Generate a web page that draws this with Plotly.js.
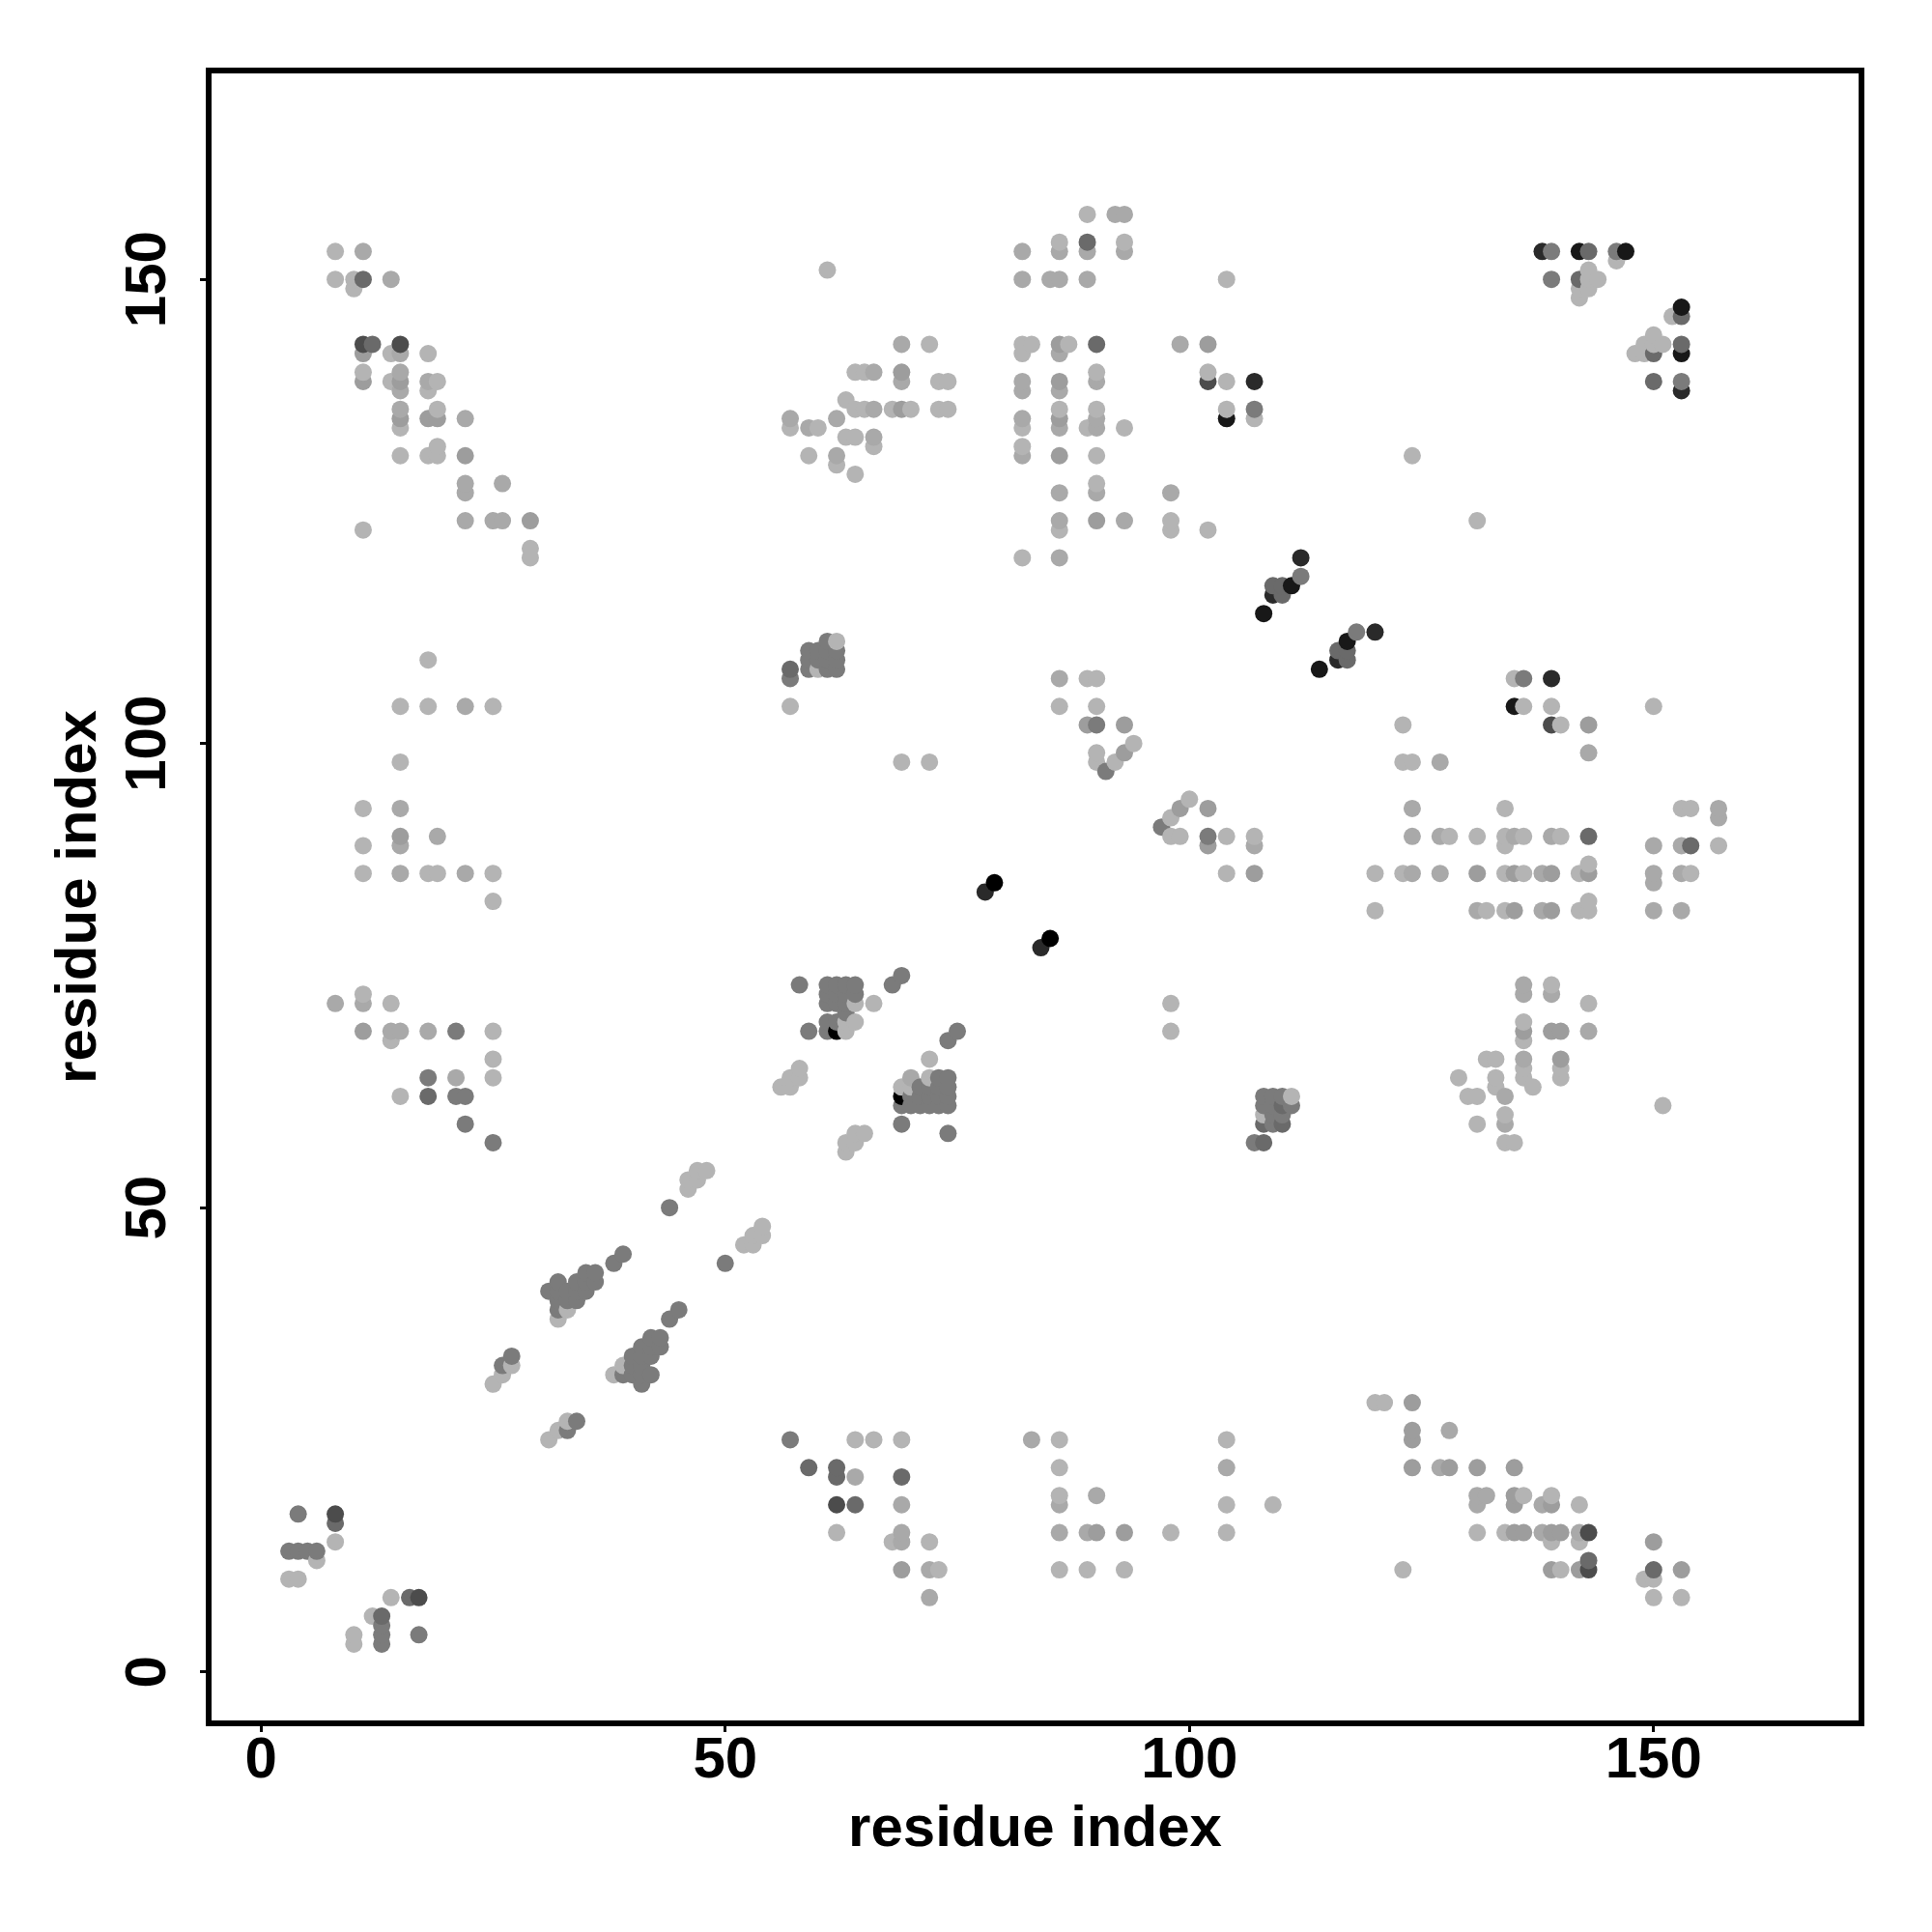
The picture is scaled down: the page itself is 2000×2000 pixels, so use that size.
<!DOCTYPE html>
<html><head><meta charset="utf-8">
<script src="https://cdn.plot.ly/plotly-3.0.1.min.js"></script>
<style>html,body{margin:0;padding:0;background:#fff}</style></head>
<body><div id="chart" style="width:2000px;height:2000px"></div>
<script>
const tickValues=[0,50,100,150];
const axisTitle="residue index";
const contactsLight=[[8,153],[8,150],[10,150],[10,149],[14,142],[18,142],[11,140],[14,139],[19,139],[18,138],[19,136],[15,134],[15,131],[18,131],[19,131],[19,132],[11,123],[29,121],[29,120],[18,109],[15,104],[18,104],[25,104],
[61,151],[86,154],[89,157],[93,154],[104,150],[82,143],[83,143],[87,143],[72,143],[82,142],[64,140],[65,140],[90,140],[102,140],[73,139],[74,139],[104,139],[63,137],[65,136],[64,136],[68,136],[70,136],[73,136],[74,136],[86,136],[90,136],[104,136],[107,135],[57,134],[60,134],[82,134],[89,134],[93,134],[63,133],[64,133],[66,132],[82,132],[59,131],[90,131],[62,130],[64,129],[90,128],[98,124],[86,123],[98,123],[102,123],[82,120],
[146,152],[143,151],[144,150],[143,150],[143,149],[142,149],[142,148],[152,146],[150,144],[149,143],[150,143],[151,143],[148,142],[149,142],[124,131],[131,124],
[135,107],[136,104],[139,104],[150,104],[123,102],[140,102],[123,98],[124,98],[134,93],[153,93],[154,93],[107,90],[128,90],[131,90],[134,90],[136,90],[140,90],[134,89],[157,89],[143,87],[120,86],[123,86],[134,86],[136,86],[142,86],[154,86],[143,83],[120,82],[132,82],[134,82],[142,82],[143,82],[139,74],[143,72],[136,70],[136,68],[132,66],[133,66],[136,65],[140,65],[129,64],[133,64],[136,64],[140,64],[133,63],[137,63],[130,62],[131,62],[151,61],[134,60],[131,59],[134,57],[135,57],[111,62],[108,60],
[62,111],[60,108],[57,104],[89,107],[90,107],[86,104],[90,104],[90,99],[90,98],[92,98],[94,100],[69,98],[72,98],[100,94],[98,92],[98,90],[99,90],[104,90],[104,86],[98,72],[98,69],[64,72],[66,72],[64,70],[63,70],[63,69],[72,66],[72,64],[69,63],[70,63],[58,65],[57,64],[58,64],[56,63],[57,63],[65,58],[64,58],[63,57],[64,57],[63,56],
[15,98],[11,93],[11,89],[11,86],[18,86],[19,86],[25,86],[25,83],[11,73],[14,72],[25,69],[14,68],[25,66],[25,64],[15,62],
[48,54],[47,54],[47,53],[46,53],[46,52],[54,48],[54,47],[53,47],[53,46],[52,46],[33,39],[32,38],[39,33],[38,32],[27,33],[26,32],[25,31],[33,27],[32,26],[31,25],
[64,25],[66,25],[69,25],[86,25],[104,25],[86,22],[86,19],[104,18],[62,15],[98,15],[104,15],[68,14],[72,14],[73,11],[86,11],[89,11],[93,11],[109,18],
[120,29],[121,29],[136,19],[139,19],[142,18],[131,15],[134,15],[139,14],[142,14],[123,11],[140,11],[149,10],[150,10],[150,8],[153,8],
[8,14],[6,12],[3,10],[4,10],[14,8],[12,6],[10,4],[10,3]];
const contactsPale=[[11,153],[14,150],[15,142],[15,140],[15,138],[18,139],[15,136],[22,135],[22,128],[22,127],[26,128],[22,124],[25,124],[26,124],[22,104],
[82,153],[86,153],[89,153],[92,157],[93,157],[93,153],[82,150],[85,150],[86,150],[89,150],[69,143],[99,143],[86,142],[66,140],[69,139],[90,139],[82,139],[82,138],[86,138],[66,136],[57,135],[62,135],[82,135],[90,135],[59,134],[86,134],[90,134],[66,133],[62,131],[82,131],[86,127],[90,127],[98,127],[86,124],[93,124],[86,120],
[127,98],[143,99],[124,93],[157,93],[157,92],[124,90],[127,90],[135,90],[139,90],[107,89],[150,89],[153,89],[124,86],[127,86],[138,86],[150,86],[150,85],[153,86],[131,82],[138,82],[150,82],[153,82],[136,74],[136,73],[139,73],[143,69],[136,66],[134,62],[134,59],
[86,107],[70,64],[15,93],[15,89],[19,90],[15,86],[22,86],[8,72],[11,72],[18,69],[14,69],[15,69],[21,64],
[83,25],[104,22],[64,21],[90,19],[69,18],[86,18],[69,15],[86,15],[89,15],[69,14],[72,11],[72,8],
[131,19],[132,19],[131,18],[138,18],[128,26],[127,22],[138,15],[142,15]];
const contactsMedium=[[11,142],[11,139],[15,139],[15,135],[18,135],[19,135],[22,131],[29,124],[86,143],[102,143],[69,140],[86,139],[69,136],[86,135],[86,131],[90,124],[143,102],[107,86],[131,86],[135,86],[139,86],[143,86],[135,82],[139,82],[136,69],[139,69],[140,69],[140,66],[89,102],[93,102],[93,99],[99,93],[102,93],[102,89],[11,69],[15,90],[124,29],[124,26],[124,25],[124,22],[128,22],[131,22],[135,22],[135,19],[135,18],[139,18],[135,15],[136,15],[139,15],[140,15],[150,14],[139,11],[142,11],[153,11],[90,15],[93,15],[69,11]];
const contactsGrey=[[107,136],[139,153],[146,153],[139,150],[153,139],[112,118],[118,112],[136,107],[90,102],[91,97],[97,91],[102,90],[61,111],[57,107],
[59,110],[60,110],[61,110],[62,110],[59,109],[60,109],[61,109],[62,109],[59,108],[61,108],[62,108],
[108,62],[109,62],[110,62],[108,61],[109,61],[111,61],[109,60],[110,60],[109,59],
[58,74],[61,74],[62,74],[63,74],[64,74],[61,73],[62,73],[63,73],[64,73],[61,72],[62,72],[63,72],[63,71],[61,70],[62,70],[59,69],[61,69],[68,74],[69,75],[74,68],[75,69],
[71,63],[72,63],[73,64],[74,64],[73,63],[74,63],[71,62],[72,62],[73,62],[74,62],[71,61],[72,61],[73,61],[74,61],[70,62],[69,61],[70,61],[69,59],[74,58],
[21,69],[18,64],[21,62],[22,62],[22,59],[25,57],[44,50],[50,44],[39,45],[38,44],
[31,41],[32,42],[32,41],[32,40],[33,41],[33,40],[34,42],[34,41],[34,40],[35,43],[35,42],[35,41],[36,43],[36,42],
[45,39],[44,38],[43,36],[42,36],[43,35],[41,35],[42,35],[42,34],[40,34],[41,34],[40,33],[41,33],[40,32],[41,32],[42,32],[39,32],[41,31],
[32,39],[27,34],[26,33],[34,27],[33,26],[57,25],[4,17],[3,13],[4,13],[5,13],[6,13],[13,5],[13,4],[13,3],[17,4],[107,57]];
const contactsDim=[[11,150],[12,143],[90,143],[89,154],[143,153],[142,150],[153,146],[150,142],[153,143],[150,139],[109,117],[110,117],[110,116],[117,109],[116,110],[117,110],[143,90],[154,89],[57,108],[18,62],[59,22],[62,22],[62,21],[69,21],[64,18],[143,12],[150,11],[8,16],[16,8],[13,6],[108,59],[110,59],[110,61],[108,57]];
const contactsDark=[[11,143],[15,143],[102,139],[139,102],[62,18],[8,17],[17,8],[143,15],[143,11]];
const contactsVeryDark=[[107,139],[138,153],[153,138],[139,107],[112,120],[120,112],[78,84],[84,78],[109,116],[116,109]];
const contactsNearBlack=[[104,135],[142,153],[147,153],[153,147],[153,142],[111,117],[108,114],[114,108],[117,111],[135,104]];
const contactsBlack=[[79,85],[85,79],[62,69],[69,62]];

const groups=[[contactsLight,'#b4b4b4'],[contactsPale,'#a9a9a9'],[contactsMedium,'#9d9d9d'],[contactsGrey,'#7b7b7b'],[contactsDim,'#6a6a6a'],[contactsDark,'#4c4c4c'],[contactsVeryDark,'#2a2a2a'],[contactsNearBlack,'#181818'],[contactsBlack,'#000000']];
const all=[];
groups.forEach(g=>g[0].forEach(p=>all.push({i:p[0],j:p[1],c:g[1]})));
all.sort((a,b)=>a.i-b.i||a.j-b.j);

const fam='"Liberation Sans",Arial,sans-serif';
const boldFont={family:fam,size:60,color:'#000',weight:'bold'};
const axis={tickmode:'array',tickvals:tickValues,ticktext:tickValues.map(String),ticks:'outside',ticklen:6,tickwidth:3,tickcolor:'#000',showline:true,linewidth:6,linecolor:'#000',mirror:true,showgrid:false,zeroline:false,tickfont:boldFont};
const data=[{type:'scatter',mode:'markers',x:all.map(d=>d.i),y:all.map(d=>d.j),marker:{size:18,color:all.map(d=>d.c),opacity:1,line:{width:0}},hoverinfo:'x+y'}];
const layout={width:2000,height:2000,autosize:false,showlegend:false,paper_bgcolor:'#fff',plot_bgcolor:'#fff',
margin:{l:219,r:76,t:76,b:219,pad:0},
xaxis:Object.assign({},axis,{range:[-5.33,172.08],ticklabelstandoff:-25,title:{text:axisTitle,font:boldFont,standoff:19},automargin:false}),
yaxis:Object.assign({},axis,{range:[-5.23,172.18],tickangle:-90,ticklabelstandoff:12,ticklabelshift:9,title:{text:axisTitle,font:boldFont,standoff:0},automargin:false})};
Plotly.newPlot('chart',data,layout,{displayModeBar:false,staticPlot:true});
</script></body></html>
